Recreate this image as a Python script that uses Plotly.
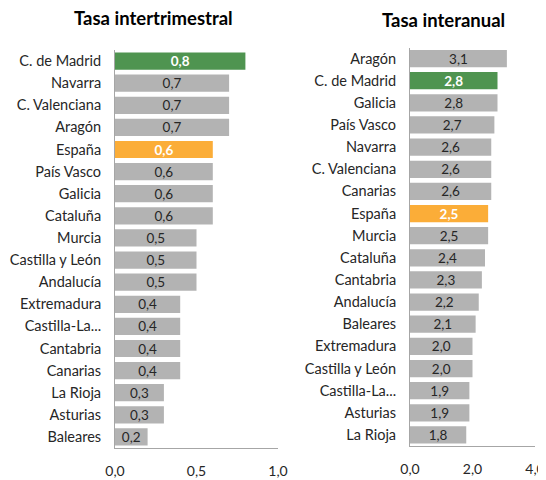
import plotly.graph_objects as go

# Tasa intertrimestral
regions_q = ["C. de Madrid", "Navarra", "C. Valenciana", "Aragón", "España", "País Vasco",
             "Galicia", "Cataluña", "Murcia", "Castilla y León", "Andalucía", "Extremadura",
             "Castilla-La...", "Cantabria", "Canarias", "La Rioja", "Asturias", "Baleares"]
values_q = [0.8, 0.7, 0.7, 0.7, 0.6, 0.6, 0.6, 0.6, 0.5, 0.5, 0.5, 0.4, 0.4, 0.4, 0.4, 0.3, 0.3, 0.2]

# Tasa interanual
regions_y = ["Aragón", "C. de Madrid", "Galicia", "País Vasco", "Navarra", "C. Valenciana",
             "Canarias", "España", "Murcia", "Cataluña", "Cantabria", "Andalucía", "Baleares",
             "Extremadura", "Castilla y León", "Castilla-La...", "Asturias", "La Rioja"]
values_y = [3.1, 2.8, 2.8, 2.7, 2.6, 2.6, 2.6, 2.5, 2.5, 2.4, 2.3, 2.2, 2.1, 2.0, 2.0, 1.9, 1.9, 1.8]

GREY = "#B3B3B3"
GREEN = "#4F9450"
ORANGE = "#FBAD38"
FONT = "Lato"

# page body adds an 8px margin, so the figure is drawn 8px smaller and shifted
OFF = 8
W, H = 546 - OFF, 480 - OFF


def px_x(x):
    return (x - OFF) / W


def px_y(y):
    return 1 - (y - OFF) / H


def bar_style(regions, values):
    colors, texts, tcolors = [], [], []
    for r, v in zip(regions, values):
        s = f"{v:.1f}".replace(".", ",")
        if r == "C. de Madrid":
            colors.append(GREEN); texts.append(f"<b>{s}</b>"); tcolors.append("white")
        elif r == "España":
            colors.append(ORANGE); texts.append(f"<b>{s}</b>"); tcolors.append("white")
        else:
            colors.append(GREY); texts.append(s); tcolors.append("#262626")
    return colors, texts, tcolors


fig = go.Figure()

for regions, values, xa, ya in [(regions_q, values_q, "x", "y"), (regions_y, values_y, "x2", "y2")]:
    colors, texts, tcolors = bar_style(regions, values)
    fig.add_trace(go.Bar(
        x=values, y=regions, orientation="h",
        marker=dict(color=colors, line=dict(width=0)),
        text=texts, textposition="inside", insidetextanchor="middle",
        constraintext="none",
        textfont=dict(color=tcolors, size=13.5, family=FONT),
        textangle=0,
        xaxis=xa, yaxis=ya, showlegend=False, hoverinfo="x+y",
    ))

axis_common = dict(showgrid=False, zeroline=False, showline=True, linecolor="#A6A6A6",
                   linewidth=1, ticks="", automargin=False, ticklabeloverflow="allow")
yfont = dict(size=14.5, family=FONT, color="#262626")
xfont = dict(size=14, family=FONT, color="#262626")

fig.update_layout(
    width=W, height=H,
    margin=dict(l=0, r=0, t=0, b=0),
    plot_bgcolor="white", paper_bgcolor="white",
    separators=",.",
    bargap=0.22,
    font=dict(family=FONT, color="#262626"),
    xaxis=dict(domain=[px_x(115), px_x(278)], range=[0, 1.0], tickvals=[0, 0.5, 1.0],
               ticktext=["0,0", "0,5", "1,0"], ticklabelstandoff=10, anchor="y",
               tickfont=xfont, **axis_common),
    yaxis=dict(domain=[px_y(448), px_y(50)], autorange="reversed",
               ticklabelstandoff=10, anchor="x", tickfont=yfont, **axis_common),
    xaxis2=dict(domain=[px_x(410), px_x(535)], range=[0, 4.0], tickvals=[0, 2, 4],
                ticktext=["0,0", "2,0", "4,0"], ticklabelstandoff=10, anchor="y2",
                tickfont=xfont, **axis_common),
    yaxis2=dict(domain=[px_y(446), px_y(47.5)], autorange="reversed",
                ticklabelstandoff=10, anchor="x2", tickfont=yfont, **axis_common),
    annotations=[
        dict(text="<b>Tasa intertrimestral</b>", x=px_x(153), y=px_y(18), xref="paper",
             yref="paper", xanchor="center", yanchor="middle", showarrow=False,
             font=dict(size=18.5, family=FONT, color="#000")),
        dict(text="<b>Tasa interanual</b>", x=px_x(443), y=px_y(20), xref="paper",
             yref="paper", xanchor="center", yanchor="middle", showarrow=False,
             font=dict(size=18.5, family=FONT, color="#000")),
    ],
)

fig.write_html("out.html")
